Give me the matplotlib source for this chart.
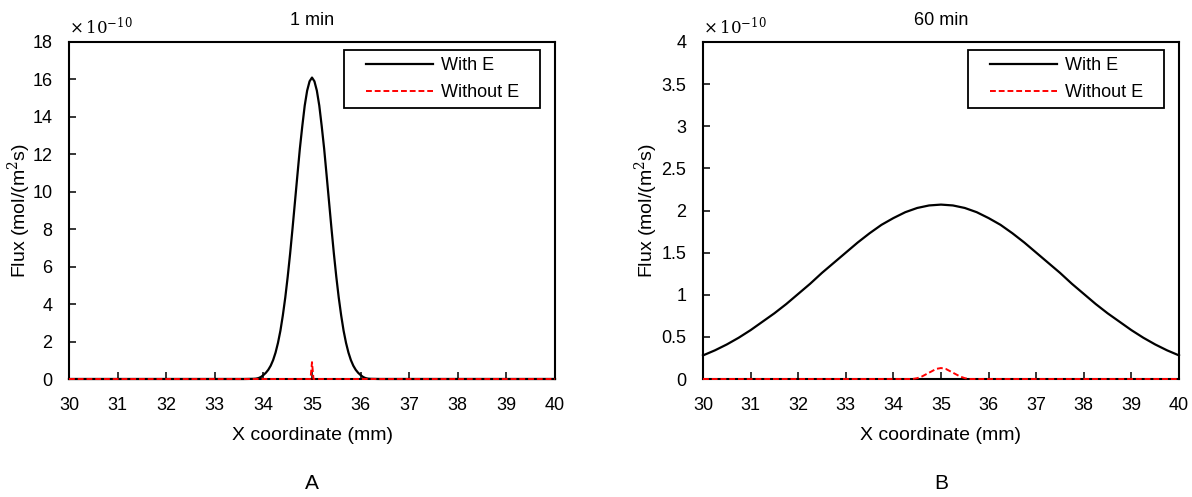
import matplotlib
matplotlib.use("Agg")
import matplotlib.pyplot as plt
from matplotlib.patches import Rectangle

plt.rcParams['font.family'] = ['Liberation Sans', 'DejaVu Sans']
plt.rcParams['mathtext.fontset'] = 'dejavuserif'

# Panel A (1 min), values in units of 1e-10 mol/(m^2 s)
a_with_x = [30, 31, 32, 33, 33.6, 33.8, 33.85, 33.9, 33.95, 34.0, 34.05, 34.1, 34.15, 34.2, 34.25,
            34.3, 34.35, 34.4, 34.45, 34.5, 34.55, 34.6, 34.65, 34.7, 34.75, 34.8, 34.85,
            34.9, 34.95, 35.0, 35.05, 35.1, 35.15, 35.2, 35.25, 35.3, 35.35, 35.4, 35.45,
            35.5, 35.55, 35.6, 35.65, 35.7, 35.75, 35.8, 35.85, 35.9, 35.95, 36.0, 36.05,
            36.1, 36.15, 36.2, 36.4, 37, 38, 39, 40]
a_with_y = [0, 0, 0, 0, 0, 0.01, 0.02, 0.05, 0.11, 0.21, 0.33, 0.49, 0.71, 1.01, 1.41,
            1.93, 2.58, 3.40, 4.35, 5.46, 6.70, 8.06, 9.48, 10.9, 12.3, 13.5, 14.6,
            15.4, 15.9, 16.1, 15.9, 15.4, 14.6, 13.5, 12.3, 10.9, 9.48, 8.06, 6.70,
            5.46, 4.35, 3.40, 2.58, 1.93, 1.41, 1.01, 0.71, 0.49, 0.33, 0.21, 0.11,
            0.05, 0.02, 0.01, 0, 0, 0, 0, 0]
a_without_x = [30, 34.97, 34.99, 35.0, 35.01, 35.03, 40]
a_without_y = [0, 0, 0.6, 0.9, 0.6, 0, 0]

# Panel B (60 min)
b_with_x = [30, 30.25, 30.5, 30.75, 31, 31.25, 31.5, 31.75, 32, 32.25, 32.5, 32.75, 33,
            33.25, 33.5, 33.75, 34, 34.25, 34.5, 34.75, 35, 35.25, 35.5, 35.75, 36,
            36.25, 36.5, 36.75, 37, 37.25, 37.5, 37.75, 38, 38.25, 38.5, 38.75, 39,
            39.25, 39.5, 39.75, 40]
b_with_y = [0.28, 0.34, 0.41, 0.49, 0.58, 0.68, 0.78, 0.89, 1.01, 1.13, 1.26, 1.38, 1.50,
            1.62, 1.73, 1.83, 1.91, 1.98, 2.03, 2.06, 2.07, 2.06, 2.03, 1.98, 1.91,
            1.83, 1.73, 1.62, 1.50, 1.38, 1.26, 1.13, 1.01, 0.89, 0.78, 0.68, 0.58,
            0.49, 0.41, 0.34, 0.28]
b_without_x = [30, 34.4, 34.5, 34.6, 34.7, 34.8, 34.9, 35.0, 35.1, 35.2, 35.3, 35.4, 35.5, 35.6, 40]
b_without_y = [0, 0, 0.01, 0.03, 0.06, 0.09, 0.12, 0.13, 0.12, 0.09, 0.06, 0.03, 0.01, 0, 0]

x_ticks = list(range(30, 41))
a_yticks = list(range(0, 19, 2))
b_yticks = [0, 0.5, 1, 1.5, 2, 2.5, 3, 3.5, 4]
b_ylabels = ['0', '0.5', '1', '1.5', '2', '2.5', '3', '3.5', '4']

W, H = 1192, 497
fig = plt.figure(figsize=(W / 100, H / 100), dpi=100)
axA = fig.add_axes([69 / W, 1 - 379 / H, 486 / W, 337 / H])
axB = fig.add_axes([703 / W, 1 - 379 / H, 476 / W, 337 / H])

panels = [
    (axA, a_with_x, a_with_y, a_without_x, a_without_y, a_yticks, [str(v) for v in a_yticks],
     18, '1 min', 'A', 486, 33),
    (axB, b_with_x, b_with_y, b_without_x, b_without_y, b_yticks, b_ylabels,
     4, '60 min', 'B', 476, 660),
]

for ax, wx, wy, nx, ny, yt, ytl, ymax, title, letter, wpx, ylab_x in panels:
    ax.plot(wx, wy, color='black', lw=1.6, label='With E', clip_on=False, zorder=3)
    ax.plot(nx, ny, color='red', lw=1.4, ls=(0, (3, 1.5)), label='Without E',
            clip_on=False, zorder=4)
    ax.set_xlim(30, 40)
    ax.set_ylim(0, ymax)
    ax.set_xticks(x_ticks)
    ax.set_xticklabels([str(v) for v in x_ticks])
    ax.set_yticks(yt)
    ax.set_yticklabels(ytl)
    ax.tick_params(direction='in', length=5, width=1.1, labelsize=13, top=False, right=False)
    ax.tick_params(axis='x', pad=13)
    ax.tick_params(axis='y', pad=12)
    for s in ax.spines.values():
        s.set_linewidth(1.5)
        s.set_color('black')
    ax.set_xlabel('X coordinate (mm)', fontsize=14, labelpad=9)
    ax.set_ylabel('Flux (mol/(m$^2$s)', fontsize=14)
    pos = ax.get_position()
    ax.yaxis.set_label_coords((ylab_x - pos.x0 * W) / wpx, 0.5)
    ax.set_title(title, fontsize=13, pad=12)
    ax.text(0.0, 1.015, r'$\times\,10^{-10}$', transform=ax.transAxes, fontsize=12,
            ha='left', va='bottom')
    # legend box: 196 x 58 px, right edge 15 px inside axes, top 8 px below axes top
    bx1 = 1 - 15 / wpx
    bx0 = bx1 - 196 / wpx
    by1 = 1 - 8 / 337
    by0 = by1 - 58 / 337
    ax.add_patch(Rectangle((bx0, by0), bx1 - bx0, by1 - by0, transform=ax.transAxes,
                           facecolor='white', edgecolor='black', lw=1.3, zorder=5,
                           clip_on=False))
    leg = ax.legend(loc='center', bbox_to_anchor=((bx0 + bx1) / 2 + 1 / wpx, (by0 + by1) / 2),
                    fontsize=13, frameon=False, handlelength=3.7,
                    handletextpad=0.45, labelspacing=0.55, borderaxespad=0.0,
                    borderpad=0.0)
    leg.set_zorder(6)
    fig.text(pos.x0 + pos.width / 2, 0.008, letter, ha='center', va='bottom', fontsize=15)

fig.savefig('out.png', dpi=100)
